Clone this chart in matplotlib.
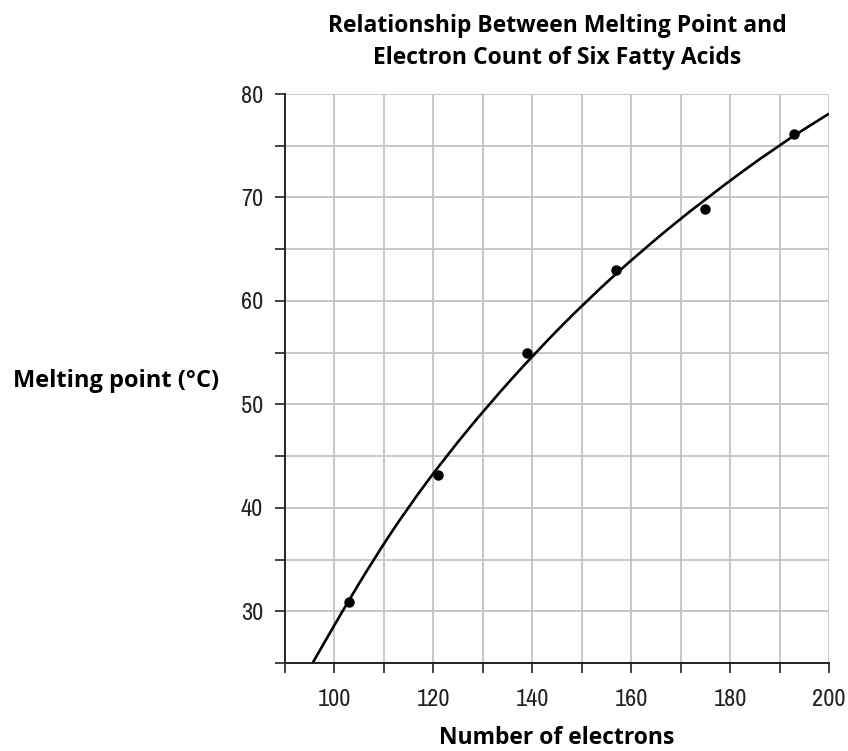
import matplotlib
matplotlib.use("Agg")
import matplotlib.pyplot as plt
from matplotlib import font_manager as fm
from matplotlib.path import Path
from matplotlib.patches import PathPatch

# ---- data ----
electrons = [103, 121, 139, 157, 175, 193]
melting_point = [30.9, 43.2, 55.0, 63.0, 68.85, 76.1]

# trend curve (where it crosses the grid lines)
curve_x = [95.65, 101.65, 107.95, 114.85, 122.65, 131.25, 140.65, 150.95, 162.45, 175.35, 189.65, 200.0]
curve_y = [25.0, 30.0, 35.0, 40.0, 45.0, 50.0, 55.0, 60.0, 65.0, 70.0, 75.0, 78.1]

x_ticks = [90, 100, 110, 120, 130, 140, 150, 160, 170, 180, 190, 200]
x_labels = ["", "100", "", "120", "", "140", "", "160", "", "180", "", "200"]
y_ticks = [25, 30, 35, 40, 45, 50, 55, 60, 65, 70, 75, 80]
y_labels = ["", "30", "", "40", "", "50", "", "60", "", "70", "", "80"]

title_lines = ["Relationship Between Melting Point and", "Electron Count of Six Fatty Acids"]
xlabel = "Number of electrons"
ylabel = "Melting point (°C)"

names = sorted({f.name for f in fm.fontManager.ttflist})
cond = [n for n in names if ("Condensed" in n or "Narrow" in n)]
tick_fam = cond[0] if cond else "Roboto"
bold_fam = "Open Sans" if "Open Sans" in names else "Roboto"
plt.rcParams['font.family'] = [tick_fam, 'DejaVu Sans']

fig = plt.figure(figsize=(8.48, 7.51), dpi=100)
ax = fig.add_axes([0.3357, 0.1172, 0.9776 - 0.3357, 0.8748 - 0.1172])

ax.set_xlim(90, 200)
ax.set_ylim(25, 80)

grid_c = "#c4c4c4"
for xv in x_ticks[1:]:
    ax.axvline(xv, color=grid_c, lw=1.3, zorder=1)
for yv in y_ticks[1:]:
    ax.axhline(yv, color=grid_c, lw=1.3, zorder=1)

# smooth curve through the read points (quadratic Bezier through midpoints)
pts = list(zip(curve_x, curve_y))
verts = [pts[0]]
codes = [Path.MOVETO]
mid = lambda a, b: ((a[0] + b[0]) / 2, (a[1] + b[1]) / 2)
verts.append(mid(pts[0], pts[1])); codes.append(Path.LINETO)
for i in range(1, len(pts) - 1):
    verts.append(pts[i]); codes.append(Path.CURVE3)
    verts.append(mid(pts[i], pts[i + 1])); codes.append(Path.CURVE3)
verts.append(pts[-1]); codes.append(Path.LINETO)
ax.add_patch(PathPatch(Path(verts, codes), facecolor="none", edgecolor="black",
                       lw=1.9, zorder=3, clip_on=True))

ax.plot(electrons, melting_point, "o", color="black", ms=6.5, zorder=4)

for s in ["top", "right"]:
    ax.spines[s].set_visible(False)
for s in ["left", "bottom"]:
    ax.spines[s].set_linewidth(1.4)
    ax.spines[s].set_color("#222222")
    ax.spines[s].set_zorder(5)

tsize = 17.5 if cond else 14
ax.set_xticks(x_ticks)
ax.set_xticklabels(x_labels)
ax.set_yticks(y_ticks)
ax.set_yticklabels(y_labels)
ax.tick_params(axis="x", length=7.5, width=1.2, pad=11, labelsize=tsize, colors="#222222")
ax.tick_params(axis="y", length=7.5, width=1.2, pad=8, labelsize=tsize, colors="#222222")

bold_kw = dict(fontweight="bold", family=[bold_fam, 'DejaVu Sans'])
# title lines: baselines at ~32 px and ~63 px from the top
fig.text(0.6567, 1 - 32 / 751, title_lines[0], ha="center", va="baseline", fontsize=16.5, **bold_kw)
fig.text(0.6567, 1 - 63.5 / 751, title_lines[1], ha="center", va="baseline", fontsize=16.5, **bold_kw)
fig.text(0.6567, 0.0095, xlabel, ha="center", va="baseline", fontsize=16.5, **bold_kw)
fig.text(0.258, 0.485, ylabel, ha="right", va="baseline", fontsize=17, **bold_kw)

fig.savefig("out.png", dpi=100)
